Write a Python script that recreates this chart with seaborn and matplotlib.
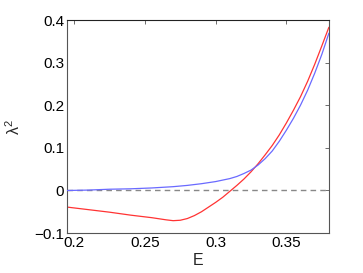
import seaborn as sns
import matplotlib.pyplot as plt
import pandas as pd

# energy grid and lambda^2 values
E_red = [0.195, 0.21, 0.225, 0.24, 0.255, 0.265, 0.27, 0.275, 0.28, 0.285,
         0.29, 0.295, 0.30, 0.305, 0.31, 0.315, 0.32, 0.325, 0.33, 0.335,
         0.34, 0.345, 0.35, 0.355, 0.36, 0.365, 0.37, 0.375, 0.38]
lam2_red = [-0.039, -0.045, -0.051, -0.058, -0.064, -0.069, -0.071, -0.070, -0.066, -0.059,
            -0.050, -0.039, -0.028, -0.016, -0.002, 0.012, 0.027, 0.044, 0.063, 0.084,
            0.106, 0.131, 0.159, 0.189, 0.221, 0.257, 0.297, 0.340, 0.384]

E_blue = [0.195, 0.21, 0.225, 0.24, 0.255, 0.27, 0.28, 0.29, 0.30, 0.31,
          0.315, 0.32, 0.325, 0.33, 0.335, 0.34, 0.345, 0.35, 0.355, 0.36,
          0.365, 0.37, 0.375, 0.38]
lam2_blue = [0.000, 0.001, 0.003, 0.004, 0.006, 0.009, 0.012, 0.016, 0.021, 0.028,
             0.033, 0.040, 0.048, 0.060, 0.075, 0.093, 0.116, 0.142, 0.170, 0.201,
             0.236, 0.276, 0.320, 0.370]

xticks = [0.2, 0.25, 0.3, 0.35]
yticks = [-0.1, 0, 0.1, 0.2, 0.3, 0.4]

sns.set_style("white")
plt.rcParams['font.family'] = ['Liberation Sans', 'DejaVu Sans']
plt.rcParams['mathtext.default'] = 'regular'
plt.rcParams['axes.unicode_minus'] = True

df_red = pd.DataFrame({'E': E_red, 'lam2': lam2_red})
df_blue = pd.DataFrame({'E': E_blue, 'lam2': lam2_blue})

fig = plt.figure(figsize=(3.63, 2.73), dpi=100)
ax = fig.add_axes([0.1846, 0.1465, 0.7214, 0.7785])

# zero reference
ax.axhline(0, color='#888888', linestyle=(0, (4, 3)), linewidth=1.0, zorder=1)

sns.lineplot(data=df_blue, x='E', y='lam2', color='#6a6aff', linewidth=0.9, ax=ax, zorder=3)
sns.lineplot(data=df_red, x='E', y='lam2', color='#ff3333', linewidth=0.9, ax=ax, zorder=2)

ax.set_xlim(0.195, 0.38)
ax.set_ylim(-0.1, 0.4)
ax.set_xticks(xticks)
ax.set_xticklabels(['0.2', '0.25', '0.3', '0.35'])
ax.set_yticks(yticks)
ax.set_yticklabels(['\u22120.1', '0', '0.1', '0.2', '0.3', '0.4'])

ax.tick_params(direction='in', length=3, width=0.6, top=True, right=True,
               labelsize=11, colors='#555555', labelcolor='black', pad=2)
for side in ['left', 'bottom', 'top', 'right']:
    ax.spines[side].set_visible(True)
    ax.spines[side].set_linewidth(0.8)
    ax.spines[side].set_color('#555555')
ax.spines['top'].set_color('#222222')

ax.set_xlabel('E', fontsize=11.5, labelpad=2)
ax.set_ylabel('λ$^2$', fontsize=11.5, labelpad=8)

plt.savefig('out.png', dpi=100)
